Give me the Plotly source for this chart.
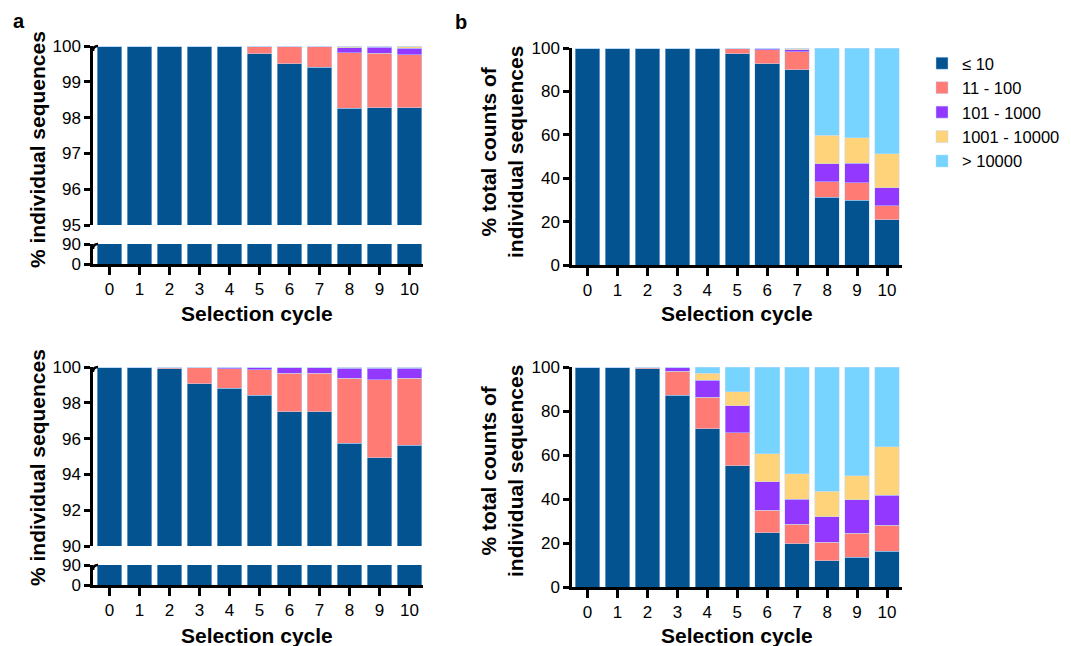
import plotly.graph_objects as go

W, H = 1071, 646
OFF = 8  # page body margin of the html page

cycles = list(range(11))
tick_labels = [str(c) for c in cycles]
series_names = ["≤ 10", "11 - 100", "101 - 1000", "1001 - 10000", "> 10000"]
colors = ["#02538F", "#FF7B74", "#9338FF", "#FFD37A", "#76D4FF"]

# Panel a (top): % individual sequences
a_top_le10 = [100, 100, 100, 100, 99.99, 99.79, 99.50, 99.40, 98.26, 98.27, 98.27]
a_top_11_100 = [0, 0, 0, 0, 0.01, 0.21, 0.49, 0.59, 1.55, 1.53, 1.49]
a_top_101_1000 = [0, 0, 0, 0, 0, 0, 0.01, 0.01, 0.14, 0.17, 0.18]
a_top_1001_10000 = [0, 0, 0, 0, 0, 0, 0, 0, 0.04, 0.03, 0.05]
a_top_gt10000 = [0, 0, 0, 0, 0, 0, 0, 0, 0.01, 0, 0.01]

# Panel a (bottom)
a_bot_le10 = [100, 99.99, 99.91, 99.07, 98.82, 98.41, 97.50, 97.50, 95.75, 94.94, 95.62]
a_bot_11_100 = [0, 0.01, 0.09, 0.92, 1.09, 1.44, 2.16, 2.16, 3.63, 4.35, 3.76]
a_bot_101_1000 = [0, 0, 0, 0.01, 0.09, 0.14, 0.30, 0.30, 0.55, 0.64, 0.55]
a_bot_1001_10000 = [0, 0, 0, 0, 0, 0.01, 0.03, 0.03, 0.05, 0.05, 0.05]
a_bot_gt10000 = [0, 0, 0, 0, 0, 0, 0.01, 0.01, 0.02, 0.02, 0.02]

# Panel b (top): % total counts
b_top_le10 = [100, 100, 100, 100, 99.8, 97.25, 92.67, 90.08, 31.15, 29.9, 20.76]
b_top_11_100 = [0, 0, 0, 0, 0.1, 2.75, 6.57, 8.09, 7.15, 8.0, 6.44]
b_top_101_1000 = [0, 0, 0, 0, 0.1, 0, 0.61, 1.07, 8.26, 9.0, 8.5]
b_top_1001_10000 = [0, 0, 0, 0, 0, 0, 0.15, 0.76, 13.13, 11.7, 15.6]
b_top_gt10000 = [0, 0, 0, 0, 0, 0, 0, 0, 40.31, 41.4, 48.7]

# Panel b (bottom)
b_bot_le10 = [100, 99.9, 99.24, 87.23, 71.88, 55.17, 24.77, 19.76, 11.85, 13.53, 16.26]
b_bot_11_100 = [0, 0.1, 0.76, 10.79, 14.44, 14.89, 10.18, 8.66, 8.51, 10.94, 11.86]
b_bot_101_1000 = [0, 0, 0, 1.83, 7.75, 12.31, 12.92, 11.40, 11.55, 15.20, 13.67]
b_bot_1001_10000 = [0, 0, 0, 0.1, 3.19, 6.38, 12.62, 11.55, 11.71, 10.79, 21.89]
b_bot_gt10000 = [0, 0, 0, 0.05, 2.74, 11.25, 39.51, 48.63, 56.38, 49.54, 36.32]

a_top = [a_top_le10, a_top_11_100, a_top_101_1000, a_top_1001_10000, a_top_gt10000]
a_bot = [a_bot_le10, a_bot_11_100, a_bot_101_1000, a_bot_1001_10000, a_bot_gt10000]
b_top = [b_top_le10, b_top_11_100, b_top_101_1000, b_top_1001_10000, b_top_gt10000]
b_bot = [b_bot_le10, b_bot_11_100, b_bot_101_1000, b_bot_1001_10000, b_bot_gt10000]

FONT = "Liberation Sans, Arial, Helvetica, sans-serif"


def fx(p):
    return (p - OFF) / W


def fy(p):
    return 1 - (p - OFF) / H


fig = go.Figure()


def add_stack(data, xa, ya, legend=False):
    for i, vals in enumerate(data):
        fig.add_trace(go.Bar(
            x=cycles, y=vals, name=series_names[i], xaxis=xa, yaxis=ya,
            marker=dict(color=colors[i], line=dict(width=0.6, color="rgba(190,220,255,0.8)")),
            showlegend=legend, legendgroup=series_names[i],
        ))


add_stack(a_top, "x", "y")
add_stack(a_top, "x", "y2")
add_stack(a_bot, "x2", "y3")
add_stack(a_bot, "x2", "y4")
add_stack(b_top, "x3", "y5", legend=True)
add_stack(b_bot, "x4", "y6")

axis_common = dict(showline=True, linewidth=2.5, linecolor="black", ticks="outside",
                   tickwidth=2.5, tickcolor="black", showgrid=False, zeroline=False,
                   tickfont=dict(family=FONT, size=17, color="black"))

xa_common = dict(axis_common, tickmode="array", tickvals=cycles, ticktext=tick_labels, ticklen=8)

LX0, LX1 = 93, 423
RX0, RX1 = 572, 902
left_x = [fx(LX0), fx(LX1)]
right_x = [fx(RX0), fx(RX1)]

fig.update_layout(
    xaxis=dict(xa_common, domain=left_x, range=[-0.545, 10.45], anchor="y2"),
    yaxis=dict(axis_common, domain=[fy(225), fy(46)], range=[95, 100], anchor="x",
               tickvals=[95, 96, 97, 98, 99, 100], ticklen=6),
    yaxis2=dict(axis_common, domain=[fy(264), fy(244)], range=[0, 90], anchor="x",
                tickvals=[0, 90], ticklen=6),
    xaxis2=dict(xa_common, domain=left_x, range=[-0.545, 10.45], anchor="y4"),
    yaxis3=dict(axis_common, domain=[fy(546), fy(367)], range=[90, 100], anchor="x2",
                tickvals=[90, 92, 94, 96, 98, 100], ticklen=6),
    yaxis4=dict(axis_common, domain=[fy(585), fy(565)], range=[0, 90], anchor="x2",
                tickvals=[0, 90], ticklen=6),
    xaxis3=dict(xa_common, domain=right_x, range=[-0.52, 10.5], anchor="y5"),
    yaxis5=dict(axis_common, domain=[fy(265), fy(48)], range=[0, 100], anchor="x3",
                tickvals=[0, 20, 40, 60, 80, 100], ticklen=6),
    xaxis4=dict(xa_common, domain=right_x, range=[-0.52, 10.5], anchor="y6"),
    yaxis6=dict(axis_common, domain=[fy(587), fy(367)], range=[0, 100], anchor="x4",
                tickvals=[0, 20, 40, 60, 80, 100], ticklen=6),
    barmode="stack",
    bargap=0.18,
    width=W, height=H,
    margin=dict(l=0, r=0, t=0, b=0, autoexpand=False),
    paper_bgcolor="white", plot_bgcolor="white",
    font=dict(family=FONT, size=17, color="black"),
    legend=dict(x=fx(922), y=fy(46), xanchor="left", yanchor="top", traceorder="normal",
                font=dict(family=FONT, size=16.5, color="black"), itemwidth=30,
                tracegroupgap=0, bgcolor="rgba(0,0,0,0)", borderwidth=0),
)

# small break hooks at the top of each broken-axis segment
shapes = []
for top in [46, 244, 367, 565]:
    x0 = fx(LX0)
    shapes.append(dict(type="path", xref="paper", yref="paper",
                       path=f"M {x0} {fy(top + 5)} Q {x0} {fy(top)} {fx(LX0 + 5)} {fy(top)}",
                       line=dict(color="black", width=2.5)))
fig.update_layout(shapes=shapes)

annotations = []
title_font = dict(family=FONT, size=21, color="black")
for cx, cy in [(257, 313), (257, 635), (737, 313), (737, 635)]:
    annotations.append(dict(text="<b>Selection cycle</b>", x=fx(cx), y=fy(cy), xref="paper", yref="paper",
                            showarrow=False, font=title_font, xanchor="center", yanchor="middle"))
for cy in [150, 468]:
    annotations.append(dict(text="<b>% individual sequences</b>", x=fx(37), y=fy(cy), xref="paper", yref="paper",
                            showarrow=False, font=title_font, textangle=-90, xanchor="center", yanchor="middle"))
for cy in [152, 471]:
    annotations.append(dict(text="<b>% total counts of<br>individual sequences</b>", x=fx(502), y=fy(cy),
                            xref="paper", yref="paper", showarrow=False, font=title_font, textangle=-90,
                            xanchor="center", yanchor="middle"))
annotations.append(dict(text="<b>a</b>", x=fx(19), y=fy(21), xref="paper", yref="paper", showarrow=False,
                        font=dict(family=FONT, size=20, color="black"), xanchor="center", yanchor="middle"))
annotations.append(dict(text="<b>b</b>", x=fx(461), y=fy(22), xref="paper", yref="paper", showarrow=False,
                        font=dict(family=FONT, size=20, color="black"), xanchor="center", yanchor="middle"))
fig.update_layout(annotations=annotations)

fig.write_html("out.html")
